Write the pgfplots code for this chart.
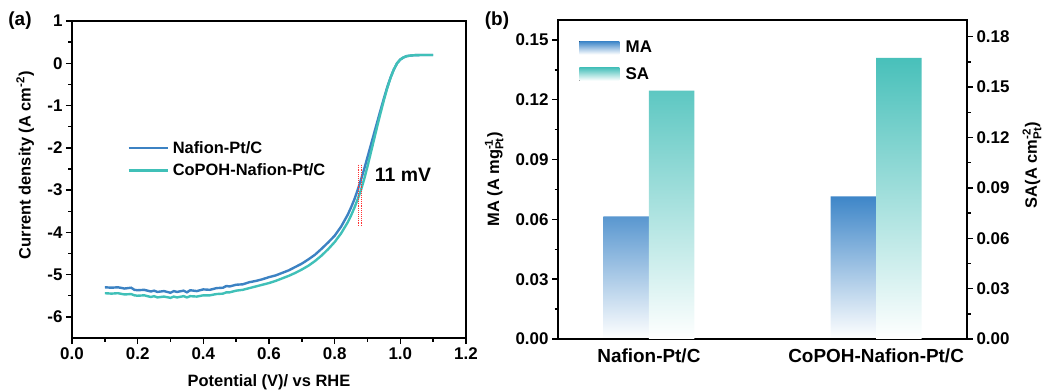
\documentclass[border=0pt]{standalone}
\usepackage{pgfplots}
\pgfplotsset{compat=1.18}
\usepackage{fontspec}
\usepackage{amsmath}
\setmainfont{Liberation Sans}
\definecolor{nafblue}{RGB}{60,130,195}
\definecolor{coteal}{RGB}{64,192,184}
\definecolor{maA}{RGB}{62,134,200}
\definecolor{saA}{RGB}{72,192,186}
\newcommand{\lbl}{\fontsize{16.5}{19}\selectfont\bfseries}
\newcommand{\tkl}{\fontsize{17}{20}\selectfont\bfseries}
\newcommand{\cat}{\fontsize{19}{22}\selectfont\bfseries}
\pgfplotsset{
 mystyle/.style={
  scale only axis,
  axis line style={line width=1.8bp},
  tick style={line width=1.4bp, black},
  tick align=outside,
  major tick length=6bp,
  minor tick length=3.5bp,
  every tick label/.append style={font=\tkl},
  /pgf/number format/assume math mode=true,
  scaled ticks=false,
 }
}
\begin{document}
\begin{tikzpicture}
\path[use as bounding box] (0,0) rectangle (1051bp,392bp);
% ---------------- panel (a)
\begin{axis}[mystyle, at={(72bp,54bp)}, anchor=south west, width=394bp, height=317bp,
 xmin=0, xmax=1.2, ymin=-6.5, ymax=1,
 xtick={0,0.2,0.4,0.6,0.8,1.0,1.2}, ytick={-6,-5,-4,-3,-2,-1,0,1},
 minor x tick num=1, minor y tick num=1, tick pos=left,
 xticklabel style={/pgf/number format/.cd, fixed, fixed zerofill, precision=1},
 xlabel={Potential (V)/ vs RHE},
 ylabel={Current density (A cm\textsuperscript{-2})},
 every axis y label/.style={at={(axis description cs:-0.119,0.545)}, rotate=90, anchor=center, font=\lbl},
 every axis x label/.style={at={(axis description cs:0.5,-0.139)}, anchor=center, font=\lbl},
 legend style={at={(axis description cs:0.14,0.627)}, anchor=north west, draw=none, fill=none, font=\lbl, row sep=5bp, inner sep=0bp, nodes={inner sep=2bp}},
 legend cell align=left,
 legend image code/.code={\draw[#1] (0bp,0bp) -- (39bp,0bp); \path (41bp,0bp);},
]
\addplot[nafblue, line width=2.4bp] coordinates {
(0.100,-5.30)(0.120,-5.31)(0.140,-5.30)(0.160,-5.33)(0.180,-5.31)(0.190,-5.36)(0.200,-5.37)(0.220,-5.36)(0.240,-5.40)(0.250,-5.38)(0.260,-5.41)(0.280,-5.39)(0.300,-5.43)(0.310,-5.39)(0.320,-5.41)(0.340,-5.38)(0.350,-5.42)(0.360,-5.37)(0.380,-5.39)(0.400,-5.35)(0.420,-5.36)(0.440,-5.32)(0.460,-5.31)(0.470,-5.27)(0.480,-5.28)(0.500,-5.24)(0.520,-5.23)(0.540,-5.18)(0.560,-5.15)(0.580,-5.11)(0.600,-5.06)(0.620,-5.02)(0.640,-4.96)(0.660,-4.90)(0.680,-4.82)(0.700,-4.74)(0.720,-4.64)(0.740,-4.53)(0.760,-4.39)(0.780,-4.24)(0.800,-4.08)(0.820,-3.86)(0.840,-3.58)(0.850,-3.41)(0.860,-3.22)(0.870,-3.00)(0.880,-2.76)(0.890,-2.50)(0.900,-2.22)(0.910,-1.94)(0.920,-1.66)(0.930,-1.38)(0.940,-1.10)(0.950,-0.83)(0.960,-0.57)(0.970,-0.34)(0.980,-0.15)(0.990,0.00)(1.000,0.09)(1.010,0.14)(1.020,0.17)(1.040,0.19)(1.060,0.195)(1.080,0.195)(1.100,0.195)
};
\addplot[coteal, line width=2.4bp] coordinates {
(0.100,-5.44)(0.120,-5.45)(0.140,-5.44)(0.160,-5.47)(0.180,-5.46)(0.190,-5.49)(0.200,-5.50)(0.220,-5.49)(0.240,-5.53)(0.250,-5.51)(0.260,-5.54)(0.280,-5.52)(0.300,-5.55)(0.310,-5.52)(0.320,-5.54)(0.340,-5.51)(0.350,-5.54)(0.360,-5.51)(0.380,-5.52)(0.400,-5.49)(0.420,-5.49)(0.440,-5.46)(0.460,-5.45)(0.470,-5.42)(0.480,-5.42)(0.500,-5.38)(0.520,-5.36)(0.540,-5.32)(0.560,-5.28)(0.580,-5.24)(0.600,-5.20)(0.620,-5.15)(0.640,-5.09)(0.660,-5.03)(0.680,-4.96)(0.700,-4.88)(0.720,-4.79)(0.740,-4.68)(0.760,-4.55)(0.780,-4.40)(0.800,-4.23)(0.820,-4.02)(0.840,-3.76)(0.850,-3.60)(0.860,-3.42)(0.870,-3.22)(0.880,-3.00)(0.890,-2.74)(0.900,-2.44)(0.910,-2.12)(0.920,-1.80)(0.930,-1.48)(0.940,-1.17)(0.950,-0.87)(0.960,-0.59)(0.970,-0.35)(0.980,-0.15)(0.990,0.00)(1.000,0.09)(1.010,0.14)(1.020,0.17)(1.040,0.19)(1.060,0.195)(1.080,0.195)(1.100,0.195)
};
\legend{Nafion-Pt/C, CoPOH-Nafion-Pt/C}
\draw[red!80!white, densely dotted, line width=0.9bp] (axis cs:0.872,-2.4) -- (axis cs:0.872,-3.88);
\draw[red!80!white, densely dotted, line width=0.9bp] (axis cs:0.883,-2.4) -- (axis cs:0.883,-3.88);
\node[font=\fontsize{19.5}{22}\selectfont\bfseries] at (axis cs:1.008,-2.63) {11 mV};
\end{axis}
% ---------------- panel (b) left
\begin{axis}[mystyle, at={(558bp,53bp)}, anchor=south west, width=409bp, height=319bp,
 xmin=0.6, xmax=2.4, ymin=0, ymax=0.16, axis on top,
 xtick={1,2}, xticklabels={Nafion-Pt/C, CoPOH-Nafion-Pt/C},
 xticklabel style={font=\cat}, xtick style={draw=none},
 ytick={0,0.03,0.06,0.09,0.12,0.15}, minor y tick num=1, tick pos=left,
 yticklabel style={/pgf/number format/.cd, fixed, fixed zerofill, precision=2},
 ylabel={MA (A mg$^{\text{-1}}_{\text{Pt}}$)},
 every axis y label/.style={at={(axis description cs:-0.156,0.5)}, rotate=90, anchor=center, font=\lbl},
 legend style={at={(axis description cs:0.052,0.94)}, anchor=north west, draw=none, fill=none, font=\tkl, row sep=9bp, inner sep=0bp, nodes={inner sep=2bp}},
 legend cell align=left,
]
\addplot[ybar, bar width=0.2, bar shift=-0.1, draw=none, top color=maA, bottom color=white, forget plot] coordinates {(1,0.0615) (2,0.0715)};
\addlegendimage{legend image code/.code={\fill[top color=maA, bottom color=white, draw=none] (0bp,-6.5bp) rectangle (40bp,6.5bp); \path (44bp,0bp);}}
\addlegendentry{MA}
\addlegendimage{legend image code/.code={\fill[top color=saA, bottom color=white, draw=none] (0bp,-6.5bp) rectangle (40bp,6.5bp); \path (44bp,0bp);}}
\addlegendentry{SA}
\end{axis}
% ---------------- panel (b) right
\begin{axis}[mystyle, at={(558bp,53bp)}, anchor=south west, width=409bp, height=319bp,
 xmin=0.6, xmax=2.4, ymin=0, ymax=0.19,
 axis y line*=right, axis x line=none,
 ytick={0,0.03,0.06,0.09,0.12,0.15,0.18}, minor y tick num=1,
 yticklabel style={/pgf/number format/.cd, fixed, fixed zerofill, precision=2},
 ylabel={SA(A cm$^{\text{-2}}_{\text{Pt}}$)},
 every axis y label/.style={at={(axis description cs:1.159,0.545)}, rotate=90, anchor=center, font=\lbl},
]
\addplot[ybar, bar width=0.2, bar shift=0.1, draw=none, top color=saA, bottom color=white] coordinates {(1,0.148) (2,0.1675)};
\end{axis}
\node[font=\fontsize{19}{22}\selectfont\bfseries] at (20bp,371bp) {(a)};
\node[font=\fontsize{19}{22}\selectfont\bfseries] at (497bp,371bp) {(b)};
\end{tikzpicture}
\end{document}
